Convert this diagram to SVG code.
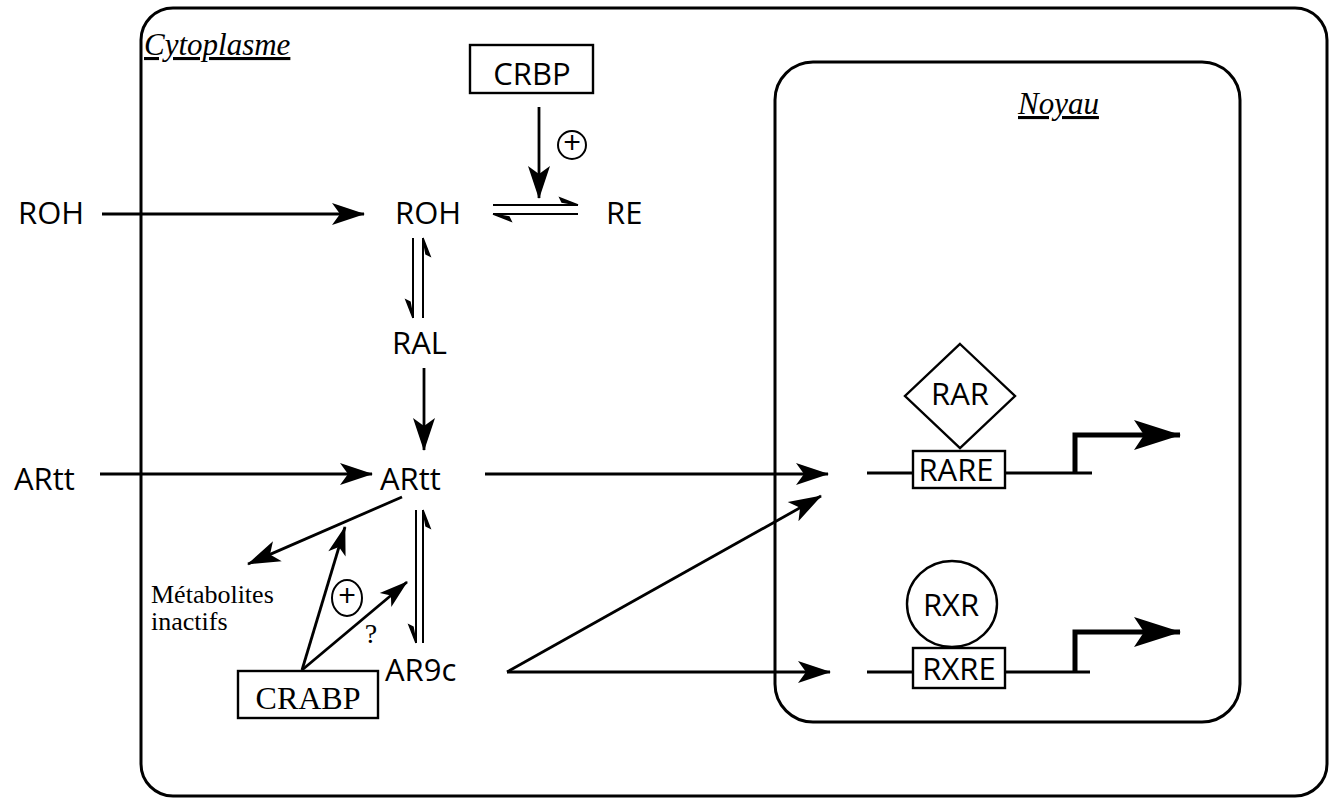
<svg xmlns="http://www.w3.org/2000/svg" width="1337" height="801" viewBox="0 0 1337 801">
<style>
.sans{font-family:"Open Sans","Liberation Sans",sans-serif;font-size:31px;fill:#000}
.serif{font-family:"Liberation Serif","Times New Roman",serif;fill:#000}
.ital{font-family:"Liberation Serif","Times New Roman",serif;font-style:italic;font-size:31px;text-decoration:underline;fill:#000}
.ln{stroke:#000;stroke-width:2.8;fill:none}
.thin{stroke:#000;stroke-width:2;fill:none}
.box{stroke:#000;stroke-width:2.4;fill:#fff}
.frame{stroke:#000;stroke-width:3;fill:none}
.thick{stroke:#000;stroke-width:5;fill:none}
</style>
<defs>
<marker id="ah" markerUnits="userSpaceOnUse" markerWidth="34" markerHeight="24" refX="32" refY="11" orient="auto" overflow="visible">
<path d="M0,0 L33,11 L0,22 L8,11 Z" fill="#000"/>
</marker>
<marker id="ahs" markerUnits="userSpaceOnUse" markerWidth="30" markerHeight="22" refX="28" refY="9" orient="auto" overflow="visible">
<path d="M0,0 L29,9 L0,18 L7,9 Z" fill="#000"/>
</marker>
<marker id="big" markerUnits="userSpaceOnUse" markerWidth="50" markerHeight="32" refX="46" refY="15" orient="auto" overflow="visible">
<path d="M0,0 L47,15 L0,30 L10,15 Z" fill="#000"/>
</marker>
<marker id="hT" markerUnits="userSpaceOnUse" markerWidth="20" markerHeight="12" refX="18" refY="8" orient="auto" overflow="visible">
<path d="M18,8 L0,1 L2,5 Z" fill="#000" stroke="#000" stroke-width="1.5"/>
</marker>
<marker id="hB" markerUnits="userSpaceOnUse" markerWidth="20" markerHeight="12" refX="18" refY="0" orient="auto" overflow="visible">
<path d="M18,0 L0,7 L2,3 Z" fill="#000" stroke="#000" stroke-width="1.5"/>
</marker>
</defs>

<g id="cytoplasme">
<rect class="frame" x="141" y="8" width="1186" height="788" rx="32"/>
<text class="ital" x="144" y="55">Cytoplasme</text>
</g>
<g id="noyau">
<rect class="frame" x="775" y="62" width="465" height="660" rx="38"/>
<text class="ital" x="1018" y="114">Noyau</text>
</g>

<g id="connectors">
<line class="ln" x1="102" y1="214" x2="364" y2="214" marker-end="url(#ah)"/>
<line class="ln" x1="100" y1="474" x2="372" y2="474" marker-end="url(#ah)"/>
<line class="ln" x1="539" y1="107" x2="539" y2="198" marker-end="url(#ah)"/>
<line class="thin" x1="493" y1="205" x2="578" y2="205" marker-end="url(#hT)"/>
<line class="thin" x1="578" y1="214" x2="493" y2="214" marker-end="url(#hT)"/>
<line class="thin" x1="413" y1="238" x2="413" y2="318" marker-end="url(#hB)"/>
<line class="thin" x1="423" y1="318" x2="423" y2="238" marker-end="url(#hB)"/>
<line class="ln" x1="424" y1="368" x2="424" y2="450" marker-end="url(#ah)"/>
<line class="thin" x1="416" y1="510" x2="416" y2="643" marker-end="url(#hB)"/>
<line class="thin" x1="423" y1="643" x2="423" y2="510" marker-end="url(#hB)"/>
<line class="ln" x1="402" y1="497" x2="248" y2="564" marker-end="url(#ah)"/>
<line class="ln" x1="302" y1="670" x2="345" y2="527" marker-end="url(#ahs)"/>
<line class="ln" x1="302" y1="670" x2="407" y2="582" marker-end="url(#ahs)"/>
<line class="ln" x1="485" y1="474" x2="828" y2="474" marker-end="url(#ah)"/>
<line class="ln" x1="507" y1="672" x2="830" y2="672" marker-end="url(#ah)"/>
<line class="ln" x1="507" y1="672" x2="821" y2="496" marker-end="url(#ah)"/>
<line class="ln" x1="867" y1="473" x2="913" y2="473"/>
<line class="ln" x1="1005" y1="473" x2="1092" y2="473"/>
<path class="thick" d="M1075,473 V435 H1180" marker-end="url(#big)"/>
<line class="ln" x1="867" y1="672" x2="913" y2="672"/>
<line class="ln" x1="1005" y1="672" x2="1090" y2="672"/>
<path class="thick" d="M1075,672 V632 H1180" marker-end="url(#big)"/>
</g>

<g id="roh-ext"><text class="sans" x="18" y="224">ROH</text></g>
<g id="artt-ext"><text class="sans" x="14" y="490">ARtt</text></g>
<g id="crbp">
<rect class="box" x="470" y="45" width="123" height="48"/>
<text class="sans" x="532" y="85" text-anchor="middle">CRBP</text>
</g>
<g id="plus1">
<circle cx="572" cy="145" r="14" class="thin"/>
<text class="sans" x="572" y="154" text-anchor="middle" font-size="26">+</text>
</g>
<g id="roh"><text class="sans" x="395" y="224">ROH</text></g>
<g id="re"><text class="sans" x="606" y="224">RE</text></g>
<g id="ral"><text class="sans" x="392" y="354">RAL</text></g>
<g id="artt"><text class="sans" x="380" y="490">ARtt</text></g>
<g id="ar9c"><text class="sans" x="385" y="681">AR9c</text></g>
<g id="metabolites">
<text class="serif" x="151" y="603" font-size="26">Métabolites</text>
<text class="serif" x="151" y="630" font-size="26">inactifs</text>
</g>
<g id="plus2">
<ellipse cx="347" cy="598" rx="15" ry="18" class="thin"/>
<text class="sans" x="347" y="607" text-anchor="middle" font-size="24">+</text>
</g>
<g id="question"><text class="serif" x="371" y="643" font-size="28" text-anchor="middle">?</text></g>
<g id="crabp">
<rect class="box" x="238" y="671" width="140" height="47"/>
<text class="serif" x="308" y="709" font-size="32" text-anchor="middle">CRABP</text>
</g>
<g id="rar">
<polygon class="box" points="960,344 1015,396 960,448 905,396"/>
<text class="sans" x="960" y="405" text-anchor="middle">RAR</text>
</g>
<g id="rare">
<rect class="box" x="913" y="451" width="92" height="37"/>
<text class="sans" x="956" y="481" text-anchor="middle">RARE</text>
</g>
<g id="rxr">
<ellipse class="box" cx="952" cy="604" rx="45" ry="43"/>
<text class="sans" x="951" y="616" text-anchor="middle">RXR</text>
</g>
<g id="rxre">
<rect class="box" x="913" y="648" width="92" height="40"/>
<text class="sans" x="959" y="680" text-anchor="middle">RXRE</text>
</g>
</svg>
